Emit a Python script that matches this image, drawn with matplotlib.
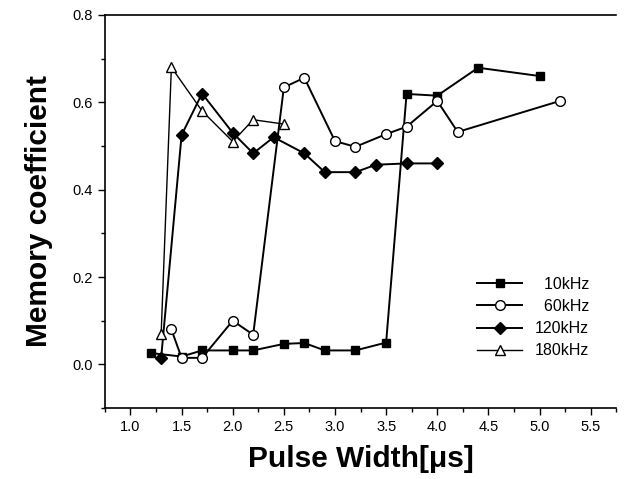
import matplotlib
matplotlib.use("Agg")
from matplotlib import pyplot as plt
from matplotlib.ticker import MultipleLocator

plt.rcParams['font.family'] = ['Liberation Sans', 'DejaVu Sans']

# 10kHz
x10 = [1.2, 1.5, 1.7, 2.0, 2.2, 2.5, 2.7, 2.9, 3.2, 3.5, 3.7, 4.0, 4.4, 5.0]
y10 = [0.026, 0.018, 0.032, 0.032, 0.032, 0.047, 0.049, 0.032, 0.032, 0.05, 0.619, 0.615, 0.679, 0.66]
# 60kHz
x60 = [1.4, 1.5, 1.7, 2.0, 2.2, 2.5, 2.7, 3.0, 3.2, 3.5, 3.7, 4.0, 4.2, 5.2]
y60 = [0.08, 0.015, 0.015, 0.10, 0.068, 0.634, 0.656, 0.511, 0.498, 0.527, 0.544, 0.603, 0.532, 0.603]
# 120kHz
x120 = [1.3, 1.5, 1.7, 2.0, 2.2, 2.4, 2.7, 2.9, 3.2, 3.4, 3.7, 4.0]
y120 = [0.015, 0.525, 0.62, 0.53, 0.483, 0.52, 0.483, 0.44, 0.44, 0.457, 0.46, 0.46]
# 180kHz
x180 = [1.3, 1.4, 1.7, 2.0, 2.2, 2.5]
y180 = [0.07, 0.68, 0.58, 0.51, 0.56, 0.55]

labels = ['  10kHz', '  60kHz', '120kHz', '180kHz']

fig = plt.figure(figsize=(6.32, 4.79), dpi=100)
ax = fig.add_axes([0.166, 0.148, 0.809, 0.821])

l10, = ax.plot(x10, y10, '-s', color='black', lw=1.4, ms=6, mfc='black')
l120, = ax.plot(x120, y120, '-D', color='black', lw=1.4, ms=6, mfc='black')
l60, = ax.plot(x60, y60, '-o', color='black', lw=1.4, ms=7, mfc='white')
l180, = ax.plot(x180, y180, '-^', color='black', lw=1.0, ms=7.5, mfc='white')

ax.set_xlim(0.75, 5.75)
ax.set_ylim(-0.1, 0.8)
ax.xaxis.set_minor_locator(MultipleLocator(0.25))
ax.yaxis.set_major_locator(MultipleLocator(0.2))
ax.yaxis.set_minor_locator(MultipleLocator(0.1))
ax.set_xticks([1.0, 1.5, 2.0, 2.5, 3.0, 3.5, 4.0, 4.5, 5.0, 5.5])
ax.tick_params(which='both', direction='out', width=1.0, labelsize=10.5)
ax.tick_params(which='major', length=5)
ax.tick_params(which='minor', length=3)
ax.spines['right'].set_visible(False)
for s in ['left', 'top', 'bottom']:
    ax.spines[s].set_linewidth(1.2)

ax.set_xlabel('Pulse Width[\u03bcs]', fontsize=21.5, fontweight='bold', labelpad=8)
ax.set_ylabel('Memory coefficient', fontsize=21.5, fontweight='bold', labelpad=14)

ax.legend([l10, l60, l120, l180], labels, loc='center left',
          bbox_to_anchor=(0.7, 0.23), frameon=False, fontsize=11.5,
          handlelength=2.8, labelspacing=0.45)

fig.savefig('out.png', dpi=100)
